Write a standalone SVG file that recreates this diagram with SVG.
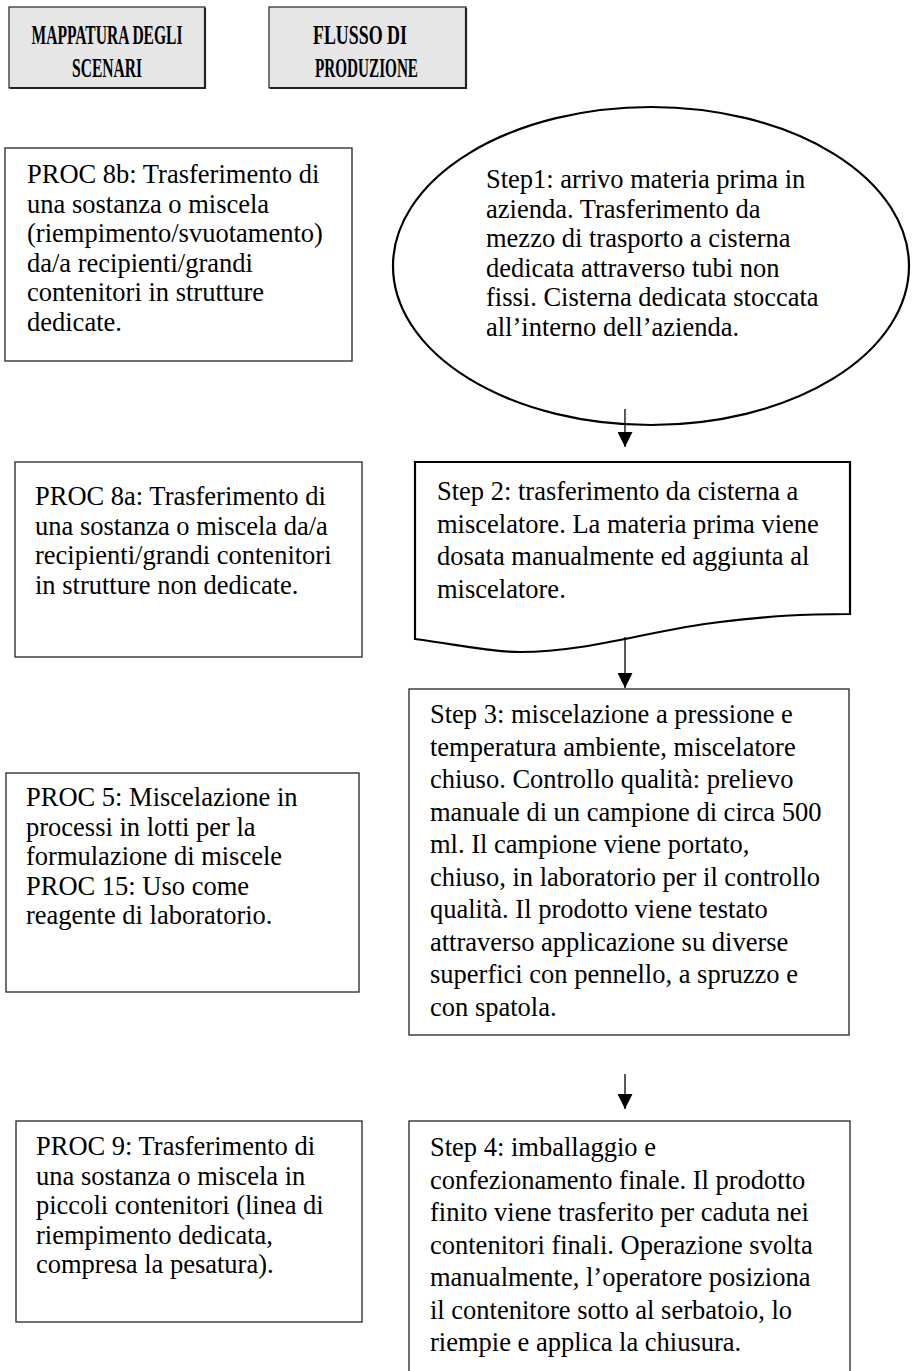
<svg xmlns="http://www.w3.org/2000/svg" width="912" height="1371" viewBox="0 0 912 1371">
<defs>
<marker id="ah" markerUnits="userSpaceOnUse" markerWidth="15" markerHeight="15" refX="15" refY="7.5" orient="auto">
<path d="M0,0 L15,7.5 L0,15 z" fill="#000"/>
</marker>
<style>
.hdr{fill:#e6e6e6;stroke:#222;stroke-width:1.2}
.shd{fill:none;stroke:#222;stroke-width:2.2}
.box{fill:#fff;stroke:#333;stroke-width:1.4}
.thick{fill:#fff;stroke:#000;stroke-width:2.2}
.ht{font-family:"Liberation Serif",serif;font-weight:bold;font-size:27px;fill:#000;text-anchor:middle}
.t{font-family:"Liberation Serif",serif;font-size:26.5px;fill:#000}
.conn{stroke:#000;stroke-width:1.3;fill:none}
</style>
</defs>
<rect width="912" height="1371" fill="#fff"/>

<g id="header-mappatura">
<rect class="hdr" x="9" y="7" width="196" height="81"/>
<polyline class="shd" points="205,8 205,88 10,88"/>
<text class="ht" x="107" y="44" textLength="151" lengthAdjust="spacingAndGlyphs">MAPPATURA DEGLI</text>
<text class="ht" x="107" y="77" textLength="70" lengthAdjust="spacingAndGlyphs">SCENARI</text>
</g>

<g id="header-flusso">
<rect class="hdr" x="269" y="7" width="197" height="81"/>
<polyline class="shd" points="466,8 466,88 270,88"/>
<text class="ht" x="360" y="44" textLength="94" lengthAdjust="spacingAndGlyphs">FLUSSO DI</text>
<text class="ht" x="366.5" y="77" textLength="103" lengthAdjust="spacingAndGlyphs">PRODUZIONE</text>
</g>

<g id="proc8b">
<rect class="box" x="5" y="148" width="347" height="213"/>
<text class="t" x="27" y="183">PROC 8b: Trasferimento di</text>
<text class="t" x="27" y="212.5">una sostanza o miscela</text>
<text class="t" x="27" y="242">(riempimento/svuotamento)</text>
<text class="t" x="27" y="271.5">da/a recipienti/grandi</text>
<text class="t" x="27" y="301">contenitori in strutture</text>
<text class="t" x="27" y="330.5">dedicate.</text>
</g>

<g id="proc8a">
<rect class="box" x="15" y="462" width="347" height="195"/>
<text class="t" x="35" y="505">PROC 8a: Trasferimento di</text>
<text class="t" x="35" y="534.5">una sostanza o miscela da/a</text>
<text class="t" x="35" y="564">recipienti/grandi contenitori</text>
<text class="t" x="35" y="593.5">in strutture non dedicate.</text>
</g>

<g id="proc5">
<rect class="box" x="6" y="773" width="353" height="219"/>
<text class="t" x="26" y="806">PROC 5: Miscelazione in</text>
<text class="t" x="26" y="835.5">processi in lotti per la</text>
<text class="t" x="26" y="865">formulazione di miscele</text>
<text class="t" x="26" y="894.5">PROC 15: Uso come</text>
<text class="t" x="26" y="924">reagente di laboratorio.</text>
</g>

<g id="proc9">
<rect class="box" x="16" y="1121" width="346" height="201"/>
<text class="t" x="36" y="1155">PROC 9: Trasferimento di</text>
<text class="t" x="36" y="1184.5">una sostanza o miscela in</text>
<text class="t" x="36" y="1214">piccoli contenitori (linea di</text>
<text class="t" x="36" y="1243.5">riempimento dedicata,</text>
<text class="t" x="36" y="1273">compresa la pesatura).</text>
</g>

<g id="step1">
<ellipse class="thick" cx="651" cy="266" rx="258" ry="159"/>
<text class="t" x="486" y="188">Step1: arrivo materia prima in</text>
<text class="t" x="486" y="217.5">azienda. Trasferimento da</text>
<text class="t" x="486" y="247">mezzo di trasporto a cisterna</text>
<text class="t" x="486" y="276.5">dedicata attraverso tubi non</text>
<text class="t" x="486" y="306">fissi. Cisterna dedicata stoccata</text>
<text class="t" x="486" y="335.5">all’interno dell’azienda.</text>
</g>

<g id="step2">
<path class="thick" d="M415,462 H850 V614 C800,614 770,616 720,622 C650,630 590,652 520,652 C490,652 460,645 415,639 Z"/>
<text class="t" x="437" y="500">Step 2: trasferimento da cisterna a</text>
<text class="t" x="437" y="532.5">miscelatore. La materia prima viene</text>
<text class="t" x="437" y="565">dosata manualmente ed aggiunta al</text>
<text class="t" x="437" y="597.5">miscelatore.</text>
</g>

<g id="step3">
<rect class="box" x="409" y="689" width="440" height="346"/>
<text class="t" x="430" y="723">Step 3: miscelazione a pressione e</text>
<text class="t" x="430" y="755.5">temperatura ambiente, miscelatore</text>
<text class="t" x="430" y="788">chiuso. Controllo qualità: prelievo</text>
<text class="t" x="430" y="820.5">manuale di un campione di circa 500</text>
<text class="t" x="430" y="853">ml. Il campione viene portato,</text>
<text class="t" x="430" y="885.5">chiuso, in laboratorio per il controllo</text>
<text class="t" x="430" y="918">qualità. Il prodotto viene testato</text>
<text class="t" x="430" y="950.5">attraverso applicazione su diverse</text>
<text class="t" x="430" y="983">superfici con pennello, a spruzzo e</text>
<text class="t" x="430" y="1015.5">con spatola.</text>
</g>

<g id="step4">
<rect class="box" x="409" y="1121" width="441" height="270"/>
<text class="t" x="430" y="1156">Step 4: imballaggio e</text>
<text class="t" x="430" y="1188.5">confezionamento finale. Il prodotto</text>
<text class="t" x="430" y="1221">finito viene trasferito per caduta nei</text>
<text class="t" x="430" y="1253.5">contenitori finali. Operazione svolta</text>
<text class="t" x="430" y="1286">manualmente, l’operatore posiziona</text>
<text class="t" x="430" y="1318.5">il contenitore sotto al serbatoio, lo</text>
<text class="t" x="430" y="1351">riempie e applica la chiusura.</text>
</g>

<g id="connectors">
<line class="conn" x1="625" y1="409" x2="625" y2="447" marker-end="url(#ah)"/>
<line class="conn" x1="625" y1="637" x2="625" y2="688" marker-end="url(#ah)"/>
<line class="conn" x1="625" y1="1074" x2="625" y2="1109" marker-end="url(#ah)"/>
</g>
</svg>
